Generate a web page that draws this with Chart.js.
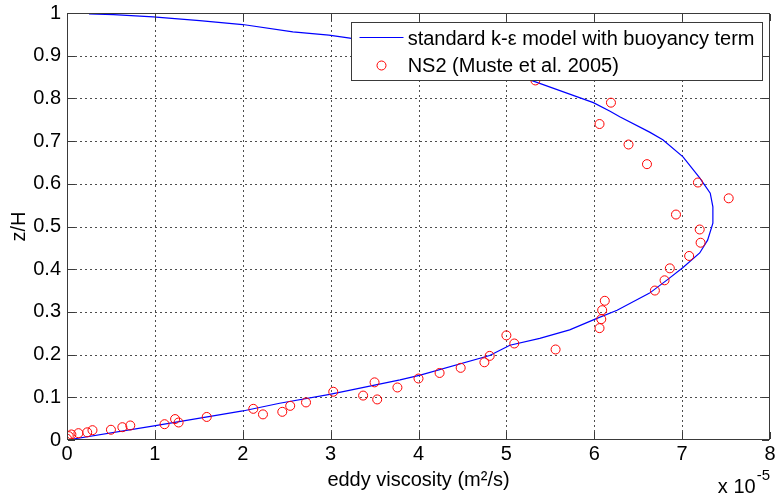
<!DOCTYPE html>
<html>
<head>
<meta charset="utf-8">
<script src="https://cdn.jsdelivr.net/npm/chart.js@4.4.0/dist/chart.umd.min.js"></script>
<style>
  html, body { margin: 0; padding: 0; background: #ffffff; }
  #wrap { width: 777px; height: 500px; }
</style>
</head>
<body>
<div id="wrap"><canvas id="c" width="777" height="500"></canvas></div>
<script>
// Eddy viscosity in units of 1e-5 m^2/s, relative depth z/H

// NS2 measurements (Muste et al. 2005)
const ns2Viscosity = [
  0.00, 0.02, 0.05, 0.13, 0.23, 0.29, 0.50, 0.63, 0.72, 1.11,
  1.23, 1.27, 1.59, 2.12, 2.23, 2.45, 2.54, 2.72, 3.03, 3.37,
  3.50, 3.53, 3.76, 4.00, 4.24, 4.48, 4.75, 4.81, 5.00, 5.09,
  5.56, 6.06, 6.08, 6.09, 6.12, 6.69, 6.80, 6.86, 7.08, 7.21,
  7.20, 6.93, 7.53, 7.18, 6.60, 6.39, 6.06, 6.19, 5.33
];
const ns2Depth = [
  0.003, 0.009, 0.013, 0.016, 0.018, 0.023, 0.024, 0.030, 0.034, 0.037,
  0.049, 0.041, 0.054, 0.073, 0.060, 0.066, 0.080, 0.088, 0.113, 0.104,
  0.135, 0.095, 0.123, 0.144, 0.157, 0.169, 0.182, 0.197, 0.245, 0.226,
  0.212, 0.262, 0.283, 0.304, 0.326, 0.350, 0.374, 0.402, 0.431, 0.462,
  0.493, 0.528, 0.566, 0.603, 0.646, 0.692, 0.740, 0.790, 0.842
];

// k-epsilon model profile with buoyancy term
const modelViscosity = [
  0.00, 0.99, 2.00, 2.42, 2.99, 3.79, 4.02, 4.81, 5.04, 5.38,
  5.72, 6.01, 6.26, 6.63, 6.83, 7.01, 7.20, 7.29, 7.35, 7.35,
  7.32, 7.20, 7.01, 6.78, 6.63, 6.29, 6.18, 5.99, 5.30, 3.22,
  2.98, 2.57, 2.00, 1.51, 0.98, 0.53, 0.25
];
const modelDepth = [
  0.000, 0.033, 0.068, 0.086, 0.107, 0.141, 0.152, 0.198, 0.222, 0.238,
  0.258, 0.283, 0.304, 0.344, 0.375, 0.404, 0.438, 0.468, 0.508, 0.546,
  0.578, 0.614, 0.663, 0.703, 0.721, 0.757, 0.770, 0.790, 0.841, 0.941,
  0.948, 0.956, 0.973, 0.982, 0.991, 0.996, 0.998
];

const xTicks = [0, 1, 2, 3, 4, 5, 6, 7, 8];
const yTicks = [0, 0.1, 0.2, 0.3, 0.4, 0.5, 0.6, 0.7, 0.8, 0.9, 1];
const seriesLabels = ['standard k-\u03b5 model with buoyancy term', 'NS2 (Muste et al. 2005)'];
const xTitle = 'eddy viscosity (m\u00b2/s)';
const yTitle = 'z/H';
const xMultiplier = ['x 10', '-5'];

const FONT = "'Liberation Sans', Arial, Helvetica, sans-serif";
const AXIS_COLOR = '#3a3a3a';
const GRID_COLOR = '#4d4d4d';
const LINE_COLOR = '#0000ff';
const MARK_COLOR = '#ff0000';

const toPoints = (xs, ys) => xs.map((v, i) => ({ x: v, y: ys[i] }));

const framePlugin = {
  id: 'frame',
  // dotted grid at every inner tick, laid down pixel by pixel
  beforeDatasetsDraw(chart) {
    const { ctx, scales: { x, y } } = chart;
    const L = Math.round(x.getPixelForValue(xTicks[0]));
    const R = Math.round(x.getPixelForValue(xTicks[xTicks.length - 1]));
    const B = Math.round(y.getPixelForValue(yTicks[0]));
    const T = Math.round(y.getPixelForValue(yTicks[yTicks.length - 1]));
    ctx.save();
    ctx.fillStyle = GRID_COLOR;
    xTicks.slice(1, -1).forEach(v => {
      const px = Math.round(x.getPixelForValue(v));
      for (let py = B - 3; py > T; py -= 5) ctx.fillRect(px, py - 2, 1, 2);
    });
    yTicks.slice(1, -1).forEach(v => {
      const py = Math.round(y.getPixelForValue(v));
      for (let px = L + 3; px < R - 1; px += 5) ctx.fillRect(px, py, 2, 1);
    });
    ctx.restore();
  },
  // box around the axes with inward tick marks on all four sides
  afterDatasetsDraw(chart) {
    const { ctx, scales: { x, y } } = chart;
    const L = Math.round(x.getPixelForValue(xTicks[0]));
    const R = Math.round(x.getPixelForValue(xTicks[xTicks.length - 1])) - 1;
    const B = Math.round(y.getPixelForValue(yTicks[0])) - 1;
    const T = Math.round(y.getPixelForValue(yTicks[yTicks.length - 1]));
    const len = 7;
    ctx.save();
    ctx.fillStyle = AXIS_COLOR;
    ctx.fillRect(L, T, R - L + 1, 1);
    ctx.fillRect(L, B, R - L + 1, 1);
    ctx.fillRect(L, T, 1, B - T + 1);
    ctx.fillRect(R, T, 1, B - T + 1);
    xTicks.forEach(v => {
      const px = Math.round(x.getPixelForValue(v));
      ctx.fillRect(px, B - len, 1, len);
      ctx.fillRect(px, T + 1, 1, len);
    });
    yTicks.forEach(v => {
      const py = Math.round(y.getPixelForValue(v));
      ctx.fillRect(L + 1, py, len, 1);
      ctx.fillRect(R - len, py, len, 1);
    });

    ctx.fillStyle = '#000';
    ctx.textBaseline = 'top';

    // x tick labels under the axis
    ctx.font = '20px ' + FONT;
    ctx.textAlign = 'center';
    xTicks.forEach(v => {
      ctx.fillText(String(v), x.getPixelForValue(v), B + 5);
    });

    // axis multiplier below the right end of the x axis
    ctx.textBaseline = 'alphabetic';
    ctx.textAlign = 'left';
    ctx.font = '15px ' + FONT;
    const expW = ctx.measureText(xMultiplier[1]).width;
    ctx.font = '20px ' + FONT;
    const baseW = ctx.measureText(xMultiplier[0]).width;
    const x0 = R - expW - baseW;
    ctx.fillText(xMultiplier[0], x0, B + 54);
    ctx.font = '15px ' + FONT;
    ctx.fillText(xMultiplier[1], x0 + baseW + 1, B + 41);
    ctx.restore();
  },
  // legend box inside the upper right corner of the axes
  afterDraw(chart) {
    const { ctx, chartArea: a } = chart;
    ctx.save();
    ctx.font = '20px ' + FONT;
    const textW = Math.max(...seriesLabels.map(s => ctx.measureText(s).width));
    const right = Math.round(a.right) - 7.5;
    const top = Math.round(a.top) + 9.5;
    const textX = right - 8 - textW;
    const left = Math.round(textX - 57) + 0.5;
    const bottom = top + 58;
    ctx.fillStyle = '#ffffff';
    ctx.fillRect(left, top, right - left, bottom - top);
    ctx.strokeStyle = AXIS_COLOR;
    ctx.lineWidth = 1;
    ctx.strokeRect(left, top, right - left, bottom - top);

    const row1 = top + 15, row2 = top + 43;
    ctx.strokeStyle = LINE_COLOR;
    ctx.beginPath();
    ctx.moveTo(left + 8, row1); ctx.lineTo(left + 52, row1);
    ctx.stroke();
    ctx.strokeStyle = MARK_COLOR;
    ctx.beginPath();
    ctx.arc(left + 30, row2, 4.5, 0, Math.PI * 2);
    ctx.stroke();

    ctx.fillStyle = '#000';
    ctx.textBaseline = 'middle';
    ctx.textAlign = 'left';
    ctx.fillText(seriesLabels[0], textX, row1 + 2);
    ctx.fillText(seriesLabels[1], textX, row2 + 1);
    ctx.restore();
  }
};

const tickFont = { family: FONT, size: 20 };

new Chart(document.getElementById('c'), {
  type: 'scatter',
  data: {
    datasets: [
      {
        label: seriesLabels[1],
        data: toPoints(ns2Viscosity, ns2Depth),
        showLine: false,
        pointStyle: 'circle',
        pointRadius: 4.5,
        pointBorderWidth: 1,
        pointBorderColor: MARK_COLOR,
        pointBackgroundColor: 'rgba(0,0,0,0)',
        order: 0
      },
      {
        label: seriesLabels[0],
        data: toPoints(modelViscosity, modelDepth),
        showLine: true,
        borderColor: LINE_COLOR,
        borderWidth: 1.2,
        pointRadius: 0,
        tension: 0,
        order: 1
      }
    ]
  },
  options: {
    responsive: false,
    animation: false,
    devicePixelRatio: 1,
    layout: { padding: { left: 0, right: 7, top: 13, bottom: 0 } },
    plugins: {
      legend: { display: false },
      tooltip: { enabled: false },
      title: { display: false }
    },
    scales: {
      x: {
        type: 'linear',
        min: 0, max: 8,
        afterBuildTicks: s => { s.ticks = xTicks.map(v => ({ value: v })); },
        afterFit: s => { s.height = 60; s.paddingLeft = 0; s.paddingRight = 0; },
        ticks: { display: false },
        grid: { display: false, drawTicks: false },
        border: { display: false },
        title: {
          display: true, text: xTitle, color: '#000',
          font: { family: FONT, size: 20 }, padding: { top: 0, bottom: 8 }
        }
      },
      y: {
        type: 'linear',
        min: 0, max: 1,
        afterBuildTicks: s => { s.ticks = yTicks.map(v => ({ value: v })); },
        afterFit: s => { s.width = 67; s.paddingTop = 0; s.paddingBottom = 0; },
        ticks: { color: '#000', font: tickFont, padding: 6, callback: v => String(v) },
        grid: { display: false, drawTicks: false },
        border: { display: false },
        title: {
          display: true, text: yTitle, color: '#000',
          font: { family: FONT, size: 20 }, padding: { top: 7, bottom: 0 }
        }
      }
    }
  },
  plugins: [framePlugin]
});
</script>
</body>
</html>
